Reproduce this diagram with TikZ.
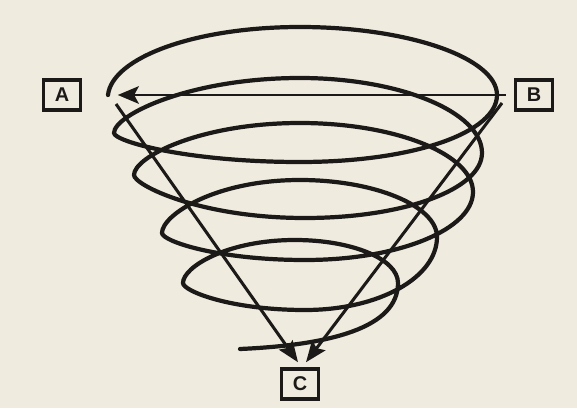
\documentclass[tikz,border=0pt]{standalone}
\usepackage{fontspec}
\setsansfont{Liberation Sans}
\usepackage{xcolor}
\usepackage{tikz}
\usetikzlibrary{arrows.meta}
\definecolor{paper}{RGB}{239,235,222}
\definecolor{ink}{RGB}{28,26,24}

\begin{document}
\begin{tikzpicture}[x=0.03cm, y=0.03cm,
    box/.style={draw=ink, line width=3pt, minimum width=1.12cm, minimum height=0.9cm, inner sep=0pt, text=ink, font=\sffamily\bfseries\fontsize{17}{20}\selectfont},
    spiral/.style={draw=ink, line width=3.6pt, line cap=round},
    arr/.style={draw=ink, line width=2.6pt, -{Stealth[length=18pt,width=14pt,inset=3pt]}},
    back/.style={draw=ink, line width=2.1pt, -{Stealth[length=18pt,width=15pt,inset=4pt]}}
]
    \fill[paper] (0,0) rectangle (577,408);

    \node[box] (A) at (62,313) {A};
    \node[box] (B) at (534,313) {B};
    \node[box] (C) at (300,24) {C};

    \draw[spiral] (108,313)
        .. controls +(4,37) and +(-106,0) .. (300,381)
        .. controls +(108,0) and +(0,37) .. (497,313)
        .. controls +(0,-37) and +(115,0) .. (300,246)
        .. controls +(-115,0) and +(0,-8) .. (114,275)
        .. controls +(0,18) and +(-110,0) .. (300,330)
        .. controls +(100,0) and +(0,41) .. (482,255)
        .. controls +(0,-36) and +(100,0) .. (305,190)
        .. controls +(-105,0) and +(0,-10) .. (134,233)
        .. controls +(0,18) and +(-100,0) .. (300,285)
        .. controls +(95,0) and +(0,38) .. (473,216)
        .. controls +(0,-37) and +(95,0) .. (305,148)
        .. controls +(-88,0) and +(0,-8) .. (162,175)
        .. controls +(0,18) and +(-85,0) .. (300,228)
        .. controls +(75,0) and +(0,31) .. (437,171)
        .. controls +(0,-40) and +(75,0) .. (305,98)
        .. controls +(-75,0) and +(0,-8) .. (183,125)
        .. controls +(0,16) and +(-68,0) .. (295,168)
        .. controls +(57,0) and +(0,24) .. (398,125)
        .. controls +(0,-45) and +(90,4) .. (240,59);

    \coordinate (a0) at (116,304);
    \coordinate (b0) at (502,305);
    \draw[back, shorten <=0.24cm, shorten >=1.06cm] (B.west) -- (A.east);
    \draw[arr] (a0) -- ([shift={(-2,5)}]C.north);
    \draw[arr] (b0) -- ([shift={(6,5)}]C.north);
\end{tikzpicture}
\end{document}
